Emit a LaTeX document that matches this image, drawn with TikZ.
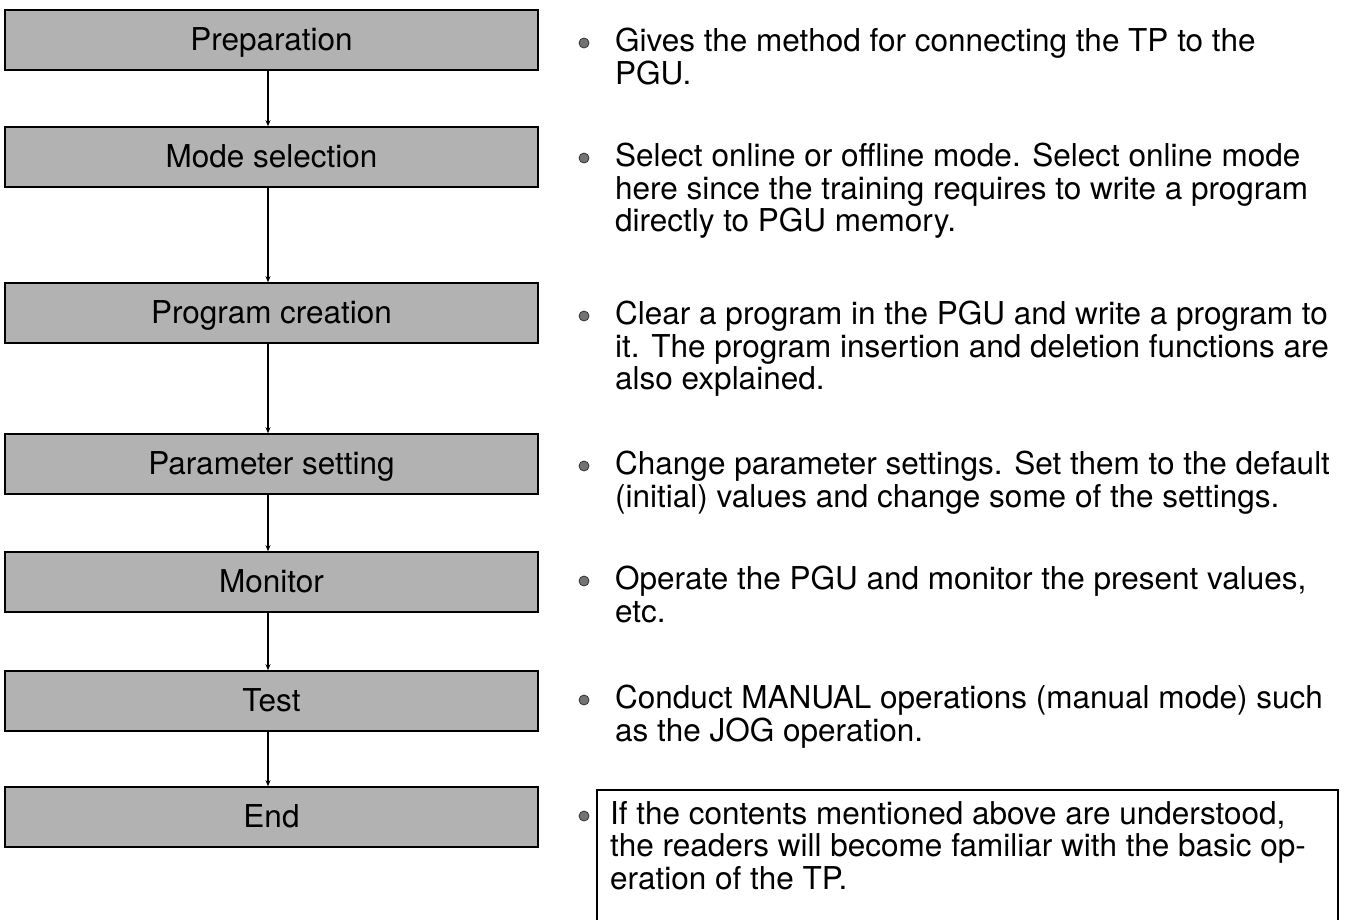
\documentclass[tikz,border=0pt]{standalone}
\usepackage{fontspec}
\setmainfont{TeX Gyre Heros}
\usetikzlibrary{arrows.meta}
\begin{document}
\begin{tikzpicture}[x=1pt,y=-1pt,
  stepbox/.style={draw=black, line width=1.6pt, fill=black!30, minimum width=533pt, minimum height=60pt, inner sep=0pt, text height=22pt, text depth=2pt, font=\fontsize{31.5}{32.5}\selectfont},
  desc/.style={anchor=north west, align=left, inner sep=0pt, font=\fontsize{31.5}{32.5}\selectfont},
  bullet/.style={circle, fill=black!55, draw=black!80, line width=0.8pt, minimum size=10pt, inner sep=0pt},
  flow/.style={draw=black, line width=1.1pt, -{Stealth[length=6pt,width=5pt]}},
  frame/.style={draw=black, line width=1.5pt}
]
\useasboundingbox (0,0) rectangle (1350,919);

% flow boxes
\node[stepbox] (s1) at (271.5,40) {Preparation};
\node[stepbox] (s2) at (271.5,157) {Mode selection};
\node[stepbox] (s3) at (271.5,313) {Program creation};
\node[stepbox] (s4) at (271.5,464) {Parameter setting};
\node[stepbox] (s5) at (271.5,582) {Monitor};
\node[stepbox] (s6) at (271.5,701) {Test};
\node[stepbox] (s7) at (271.5,817) {End};

\foreach \a/\b in {s1/s2,s2/s3,s3/s4,s4/s5,s5/s6,s6/s7}
  \draw[flow] ([xshift=-3.5pt]\a.south) -- ([xshift=-3.5pt]\b.north);

% bullets
\node[bullet] (b1) at (584,43) {};
\node[bullet] (b2) at (584,158) {};
\node[bullet] (b3) at (584,316) {};
\node[bullet] (b4) at (584,466) {};
\node[bullet] (b5) at (584,581) {};
\node[bullet] (b6) at (584,700) {};
\node[bullet] (b7) at (584,816) {};

% descriptions
\node[desc] (d1) at (615,28) {Gives the method for connecting the TP to the\\PGU.};
\node[desc] (d2) at (615,143) {Select online or offline mode. Select online mode\\here since the training requires to write a program\\directly to PGU memory.};
\node[desc] (d3) at (615,301) {Clear a program in the PGU and write a program to\\it. The program insertion and deletion functions are\\also explained.};
\node[desc] (d4) at (615,451) {Change parameter settings. Set them to the default\\(initial) values and change some of the settings.};
\node[desc] (d5) at (615,566) {Operate the PGU and monitor the present values,\\etc.};
\node[desc] (d6) at (615,685) {Conduct MANUAL operations (manual mode) such\\as the JOG operation.};
\node[desc] (d7) at (610,801) {If the contents mentioned above are understood,\\the readers will become familiar with the basic op-\\eration of the TP.};

% open frame around the last note
\draw[frame] (597,925) -- (597,790) -- (1338,790) -- (1338,925);
\end{tikzpicture}
\end{document}
